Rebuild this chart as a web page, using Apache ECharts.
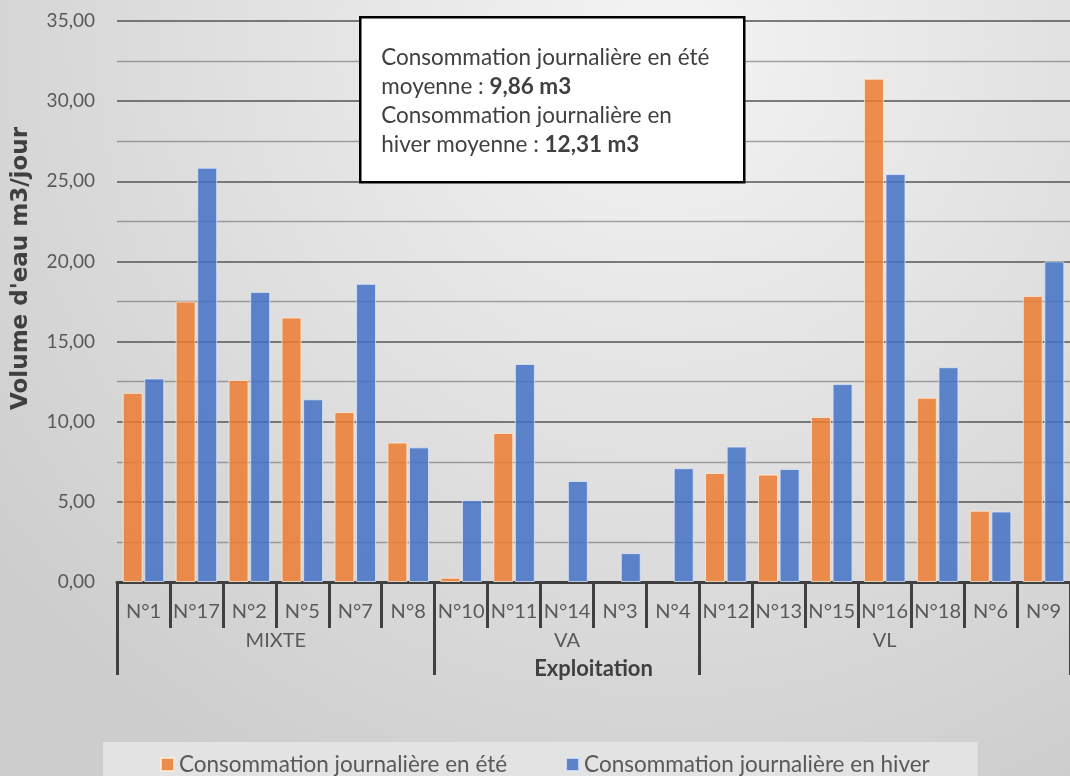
<!DOCTYPE html>
<html>
<head>
<meta charset="utf-8">
<script src="https://cdn.jsdelivr.net/npm/echarts@6/dist/echarts.min.js"></script>
<style>
  html, body { margin: 0; padding: 0; }
  #chart { width: 1070px; height: 776px; }
</style>
</head>
<body>
<div id="chart"></div>
<script>
// Farms, grouped by production type
const categories = ['N°1', 'N°17', 'N°2', 'N°5', 'N°7', 'N°8',
  'N°10', 'N°11', 'N°14', 'N°3', 'N°4',
  'N°12', 'N°13', 'N°15', 'N°16', 'N°18', 'N°6', 'N°9'];
const groupNames = ['MIXTE', 'VA', 'VL'];
const groupSizes = [6, 5, 7];

// Daily water use (m3/day)
const summer = [11.8, 17.5, 12.6, 16.5, 10.6, 8.7,
  0.27, 9.3, 0, 0, 0,
  6.8, 6.7, 10.3, 31.4, 11.5, 4.45, 17.85];
const winter = [12.7, 25.85, 18.1, 11.4, 18.6, 8.4,
  5.1, 13.6, 6.3, 1.8, 7.1,
  8.45, 7.05, 12.35, 25.45, 13.4, 4.4, 20.0];

const seriesNames = ['Consommation journalière en été', 'Consommation journalière en hiver'];
const summerAverage = '9,86 m3';
const winterAverage = '12,31 m3';

const yTicks = { min: 0, max: 35, interval: 5 };

// Group boundaries and centres on a 0..N scale
const boundaries = [0];
groupSizes.forEach(s => boundaries.push(boundaries[boundaries.length - 1] + s));
const centres = groupSizes.map((s, i) => boundaries[i] + s / 2);

const FONT = 'Lato, "Open Sans", sans-serif';
const TXT = '#595959';
const DARK = '#404040';

// Zero-valued bars are left empty so no border stub is drawn
const noZero = arr => arr.map(v => (v === 0 ? '-' : v));

const chart = echarts.init(document.getElementById('chart'));
chart.setOption({
  backgroundColor: {
    type: 'radial', x: 0.62, y: 0.05, r: 1.1,
    colorStops: [
      { offset: 0, color: '#f4f4f4' },
      { offset: 1, color: '#cdcdcd' }
    ]
  },
  textStyle: { fontFamily: FONT },
  animation: false,
  grid: { left: 117, top: 21, right: -10, bottom: 194, containLabel: false },
  legend: {
    data: seriesNames,
    left: 103, top: 742,
    padding: [11, 48, 20, 57],
    itemGap: 58,
    backgroundColor: '#e3e3e3',
    icon: 'rect', itemWidth: 13, itemHeight: 13,
    textStyle: { fontFamily: FONT, fontSize: 22.5, color: TXT }
  },
  xAxis: [
    {
      type: 'category',
      data: categories,
      axisLine: { lineStyle: { color: DARK, width: 3 } },
      axisTick: { show: true, interval: 0, length: 46, lineStyle: { color: DARK, width: 3 } },
      axisLabel: { interval: 0, fontSize: 20, color: TXT, margin: 20, fontFamily: FONT },
      splitLine: { show: false }
    },
    {
      type: 'value',
      min: 0, max: categories.length,
      position: 'bottom',
      axisLine: { show: false },
      splitLine: { show: false },
      axisTick: { show: true, customValues: boundaries, length: 93, lineStyle: { color: DARK, width: 3 } },
      axisLabel: {
        customValues: centres,
        margin: 49, fontSize: 20, color: TXT, fontFamily: FONT,
        formatter: v => groupNames[centres.indexOf(v)] || ''
      },
      name: 'Exploitation',
      nameLocation: 'middle',
      nameGap: 76,
      nameTextStyle: { fontSize: 22, fontWeight: 'bold', color: DARK, fontFamily: FONT }
    }
  ],
  yAxis: {
    type: 'value',
    min: yTicks.min, max: yTicks.max, interval: yTicks.interval,
    axisLine: { show: false },
    axisTick: { show: false },
    axisLabel: {
      fontSize: 19, color: TXT, margin: 22, fontFamily: FONT,
      formatter: v => v.toFixed(2).replace('.', ',')
    },
    splitLine: { lineStyle: { color: '#555555', width: 1.6 } },
    minorTick: { show: false, splitNumber: 2 },
    minorSplitLine: { show: true, lineStyle: { color: 'rgba(110,110,110,0.6)', width: 1.4 } },
    name: "Volume d'eau m3/jour",
    nameLocation: 'middle',
    nameGap: 84,
    nameTextStyle: {
      fontSize: 23, fontWeight: 'bold', color: DARK,
      fontFamily: '"DejaVu Sans", sans-serif', padding: [0, 0, 0, 66]
    }
  },
  series: [
    {
      name: seriesNames[0], type: 'bar', data: noZero(summer),
      barWidth: 20, barGap: '8%',
      itemStyle: { color: 'rgba(237,125,49,0.85)', borderColor: 'rgba(255,235,215,0.8)', borderWidth: 1 }
    },
    {
      name: seriesNames[1], type: 'bar', data: noZero(winter),
      barWidth: 20, barGap: '8%',
      itemStyle: { color: 'rgba(68,114,196,0.85)', borderColor: 'rgba(220,230,250,0.8)', borderWidth: 1 }
    }
  ],
  graphic: [
    {
      type: 'group', left: 359, top: 16, z: 100,
      children: [
        {
          type: 'rect', z: 100,
          shape: { x: 0, y: 0, width: 384, height: 165 },
          style: { fill: '#ffffff', stroke: '#000000', lineWidth: 2.5 }
        },
        {
          type: 'text', x: 21, y: 26, z: 101,
          style: {
            text: 'Consommation journalière en été\nmoyenne : {b|' + summerAverage + '}\nConsommation journalière en\nhiver moyenne : {b|' + winterAverage + '}',
            fontFamily: FONT, fontSize: 22.5, lineHeight: 29, fill: DARK,
            rich: { b: { fontFamily: FONT, fontSize: 22.5, fontWeight: 'bold', lineHeight: 29, fill: DARK } }
          }
        }
      ]
    }
  ]
});
</script>
</body>
</html>
